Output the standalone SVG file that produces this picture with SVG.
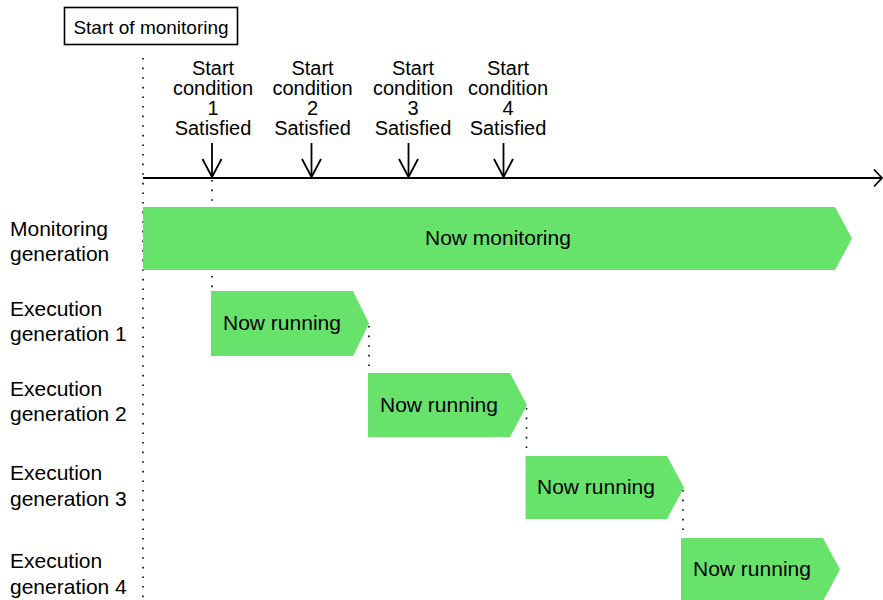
<svg xmlns="http://www.w3.org/2000/svg" width="883" height="600" viewBox="0 0 883 600">
<style>
text{font-family:"Liberation Sans",Arial,sans-serif;fill:#000}
.lbl{font-size:21px}
.cond{font-size:20px;text-anchor:middle}
.bar{fill:#67E26B}
.dot{stroke:#000;stroke-width:1.6;stroke-dasharray:1.6 8;fill:none}
.ln{stroke:#000;stroke-width:1.8;fill:none}
</style>
<rect width="883" height="600" fill="#fff"/>
<g id="connectors">
<line class="dot" x1="143" y1="58" x2="143" y2="600"/>
<line class="dot" x1="212" y1="180" x2="212" y2="291"/>
<line class="dot" x1="369" y1="326" x2="369" y2="373"/>
<line class="dot" x1="526.5" y1="408" x2="526.5" y2="456"/>
<line class="dot" x1="683" y1="490" x2="683" y2="538"/>
<line class="ln" x1="143" y1="178" x2="881" y2="178"/>
<polyline class="ln" points="874,169.5 882,178 874,186.5"/>
<g id="arrows">
<line class="ln" x1="212" y1="143" x2="212" y2="177"/>
<polyline class="ln" points="202.5,159 212,177 221.5,159"/>
<line class="ln" x1="311.5" y1="143" x2="311.5" y2="177"/>
<polyline class="ln" points="302,159 311.5,177 321,159"/>
<line class="ln" x1="408.5" y1="143" x2="408.5" y2="177"/>
<polyline class="ln" points="399,159 408.5,177 418,159"/>
<line class="ln" x1="503.5" y1="143" x2="503.5" y2="177"/>
<polyline class="ln" points="494,159 503.5,177 513,159"/>
</g>
</g>
<g id="start-of-monitoring">
<rect x="64.5" y="7.5" width="173" height="37" fill="#fff" stroke="#000" stroke-width="1.6"/>
<text x="151" y="34" font-size="19" text-anchor="middle">Start of monitoring</text>
</g>
<g id="cond1"><text class="cond" x="213" y="75">Start</text><text class="cond" x="213" y="95">condition</text><text class="cond" x="213" y="115">1</text><text class="cond" x="213" y="135">Satisfied</text></g>
<g id="cond2"><text class="cond" x="312.5" y="75">Start</text><text class="cond" x="312.5" y="95">condition</text><text class="cond" x="312.5" y="115">2</text><text class="cond" x="312.5" y="135">Satisfied</text></g>
<g id="cond3"><text class="cond" x="413" y="75">Start</text><text class="cond" x="413" y="95">condition</text><text class="cond" x="413" y="115">3</text><text class="cond" x="413" y="135">Satisfied</text></g>
<g id="cond4"><text class="cond" x="508" y="75">Start</text><text class="cond" x="508" y="95">condition</text><text class="cond" x="508" y="115">4</text><text class="cond" x="508" y="135">Satisfied</text></g>
<g id="monitoring-generation">
<text class="lbl" x="10" y="236">Monitoring</text><text class="lbl" x="10" y="261">generation</text>
<polygon class="bar" points="143,207 835,207 852,238.5 835,270 143,270"/>
<text class="lbl" x="425" y="245">Now monitoring</text>
</g>
<g id="execution-generation-1">
<text class="lbl" x="10" y="316">Execution</text><text class="lbl" x="10" y="341">generation 1</text>
<polygon class="bar" points="211,291 353,291 369,323.5 353,356 211,356"/>
<text class="lbl" x="223" y="330">Now running</text>
</g>
<g id="execution-generation-2">
<text class="lbl" x="10" y="396">Execution</text><text class="lbl" x="10" y="421">generation 2</text>
<polygon class="bar" points="368,373 510,373 527,405 510,437 368,437"/>
<text class="lbl" x="380" y="412">Now running</text>
</g>
<g id="execution-generation-3">
<text class="lbl" x="10" y="480">Execution</text><text class="lbl" x="10" y="506">generation 3</text>
<polygon class="bar" points="525.5,456 667,456 684,487.5 667,519 525.5,519"/>
<text class="lbl" x="537" y="494">Now running</text>
</g>
<g id="execution-generation-4">
<text class="lbl" x="10" y="568">Execution</text><text class="lbl" x="10" y="594">generation 4</text>
<polygon class="bar" points="681,538 823,538 840,569.5 823,601 681,601"/>
<text class="lbl" x="693" y="576">Now running</text>
</g>
</svg>
